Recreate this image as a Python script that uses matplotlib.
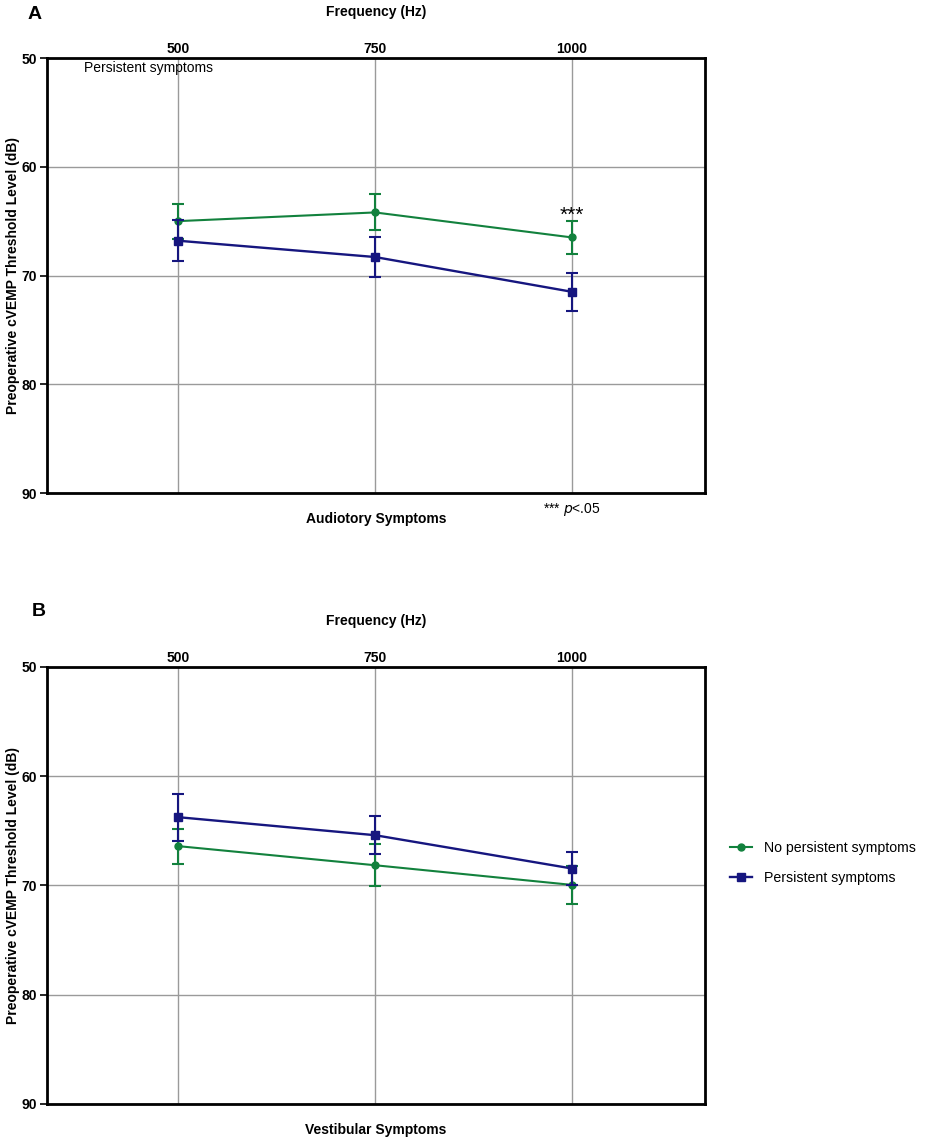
import matplotlib.pyplot as plt
from matplotlib.lines import Line2D

plt.rcParams['font.family'] = ['Liberation Sans', 'DejaVu Sans']

freqs = ['500', '750', '1000']
series_names = ['No persistent symptoms', 'Persistent symptoms']

# panel A - auditory symptoms
aud_none = [65.0, 64.2, 66.5]
aud_none_err = [1.6, 1.65, 1.5]
aud_pers = [66.8, 68.3, 71.5]
aud_pers_err = [1.9, 1.8, 1.75]

# panel B - vestibular symptoms
ves_none = [66.4, 68.15, 69.95]
ves_none_err = [1.6, 1.9, 1.75]
ves_pers = [63.75, 65.4, 68.45]
ves_pers_err = [2.15, 1.75, 1.55]

GREEN = '#12813d'
BLUE = '#16167f'


def draw_panel(ax, none_vals, none_err, pers_vals, pers_err, xlabel, letter, letter_pos):
    x = list(range(len(freqs)))
    ax.errorbar(x, none_vals, yerr=none_err, color=GREEN, marker='o', ms=5,
                lw=1.5, elinewidth=1.5, capsize=4, capthick=1.5, zorder=3)
    ax.errorbar(x, pers_vals, yerr=pers_err, color=BLUE, marker='s', ms=5.5,
                lw=1.7, elinewidth=1.5, capsize=4, capthick=1.5, zorder=4)

    ax.set_xlim(-0.665, 2.675)
    ax.set_ylim(90, 50)
    ax.set_xticks(x)
    ax.set_xticklabels(freqs, fontweight='bold', fontsize=10)
    ax.set_yticks([50, 60, 70, 80, 90])
    ax.set_yticklabels(['50', '60', '70', '80', '90'], fontweight='bold', fontsize=10)
    ax.xaxis.tick_top()
    ax.tick_params(axis='x', length=0, pad=1.7)
    ax.tick_params(axis='y', length=5, width=1.2, pad=2)
    ax.grid(True, color='#9a9a9a', lw=1)
    ax.set_axisbelow(True)
    for s in ax.spines.values():
        s.set_linewidth(2)
        s.set_color('black')

    ax.set_title('Frequency (Hz)', fontweight='bold', fontsize=10, pad=30)
    ax.set_xlabel(xlabel, fontweight='bold', fontsize=10, labelpad=14)
    ax.set_ylabel('Preoperative cVEMP Threshold Level (dB)',
                  fontweight='bold', fontsize=10, labelpad=1.5)
    ax.text(letter_pos[0], letter_pos[1], letter, transform=ax.transAxes,
            fontsize=14, fontweight='bold', va='center')


fig = plt.figure(figsize=(9.35, 11.42), dpi=100)
axA = fig.add_axes([0.0503, 0.5683, 0.7037, 0.3809])
axB = fig.add_axes([0.0503, 0.0333, 0.7037, 0.3827])

draw_panel(axA, aud_none, aud_none_err, aud_pers, aud_pers_err,
           'Audiotory Symptoms', 'A', (-0.030, 1.099))
draw_panel(axB, ves_none, ves_none_err, ves_pers, ves_pers_err,
           'Vestibular Symptoms', 'B', (-0.023, 1.126))

# stray label and significance marks in panel A
axA.text(0.056, 0.978, 'Persistent symptoms', transform=axA.transAxes,
         fontsize=10, va='center')
axA.text(2, aud_none[2] - aud_none_err[2] + 0.3, '***', ha='center',
         va='bottom', fontsize=15)
axA.text(2, 91.5, '*** $\\it{p}$<.05', ha='center', va='center', fontsize=10)

handles = [Line2D([], [], color=GREEN, marker='o', ms=5, lw=1.5),
           Line2D([], [], color=BLUE, marker='s', ms=5.5, lw=1.7)]
axB.legend(handles, series_names, loc='center left',
           bbox_to_anchor=(1.018, 0.551), frameon=False, fontsize=10.2,
           handlelength=1.6, handletextpad=0.8, labelspacing=1.1)

fig.savefig('out.png', dpi=100)
